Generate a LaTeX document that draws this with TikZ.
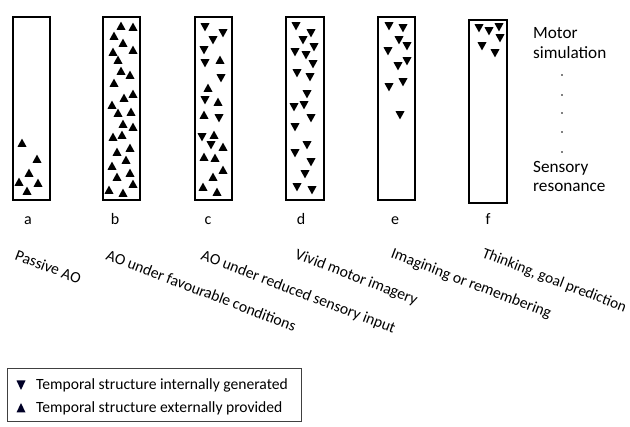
\documentclass[tikz,border=0pt]{standalone}
\usepackage{fontspec}
\setmainfont{Carlito}
\usetikzlibrary{calc}
\def\tup(#1,#2){\fill[shift={(#1,#2)}] (-4.5,3.8) -- (4.5,3.8) -- (0,-4.4) -- cycle;}
\def\tdn(#1,#2){\fill[shift={(#1,#2)}] (-4.5,-3.8) -- (4.5,-3.8) -- (0,4.4) -- cycle;}
\tikzset{
  column/.style={line width=1.6pt},
  letter/.style={anchor=base, font=\fontsize{16}{18}\selectfont},
  scale label/.style={anchor=base west, font=\fontsize{17.2}{19}\selectfont, inner sep=0pt},
  condition/.style={anchor=north west, rotate=-21, inner sep=0pt, font=\fontsize{15.7}{17}\selectfont},
  key text/.style={anchor=west, inner sep=0pt, font=\fontsize{15.6}{17}\selectfont},
}

\begin{document}
\begin{tikzpicture}[x=1pt, y=-1pt]
			%%%%% START %%%%%
			\useasboundingbox (0,0) rectangle (630,427);

			\draw[column] (13, 17) rectangle (50, 200);
			\draw[column] (103, 17) rectangle (140, 200);
			\draw[column] (195, 17) rectangle (232, 200);
			\draw[column] (286, 17) rectangle (324, 200);
			\draw[column] (378, 17) rectangle (415, 200);
			\draw[column] (469, 20) rectangle (507, 203);

			% a: passive AO
			\foreach \x/\y in {22/143, 37/159, 29/173, 19/182, 38/183, 27/191}
				{\tup(\x,\y)}

			% b: favourable conditions
			\foreach \x/\y in {121/26, 133/27, 114/36, 123/43, 133/50, 113/52, 118/60,
				121/71, 130/75, 114/83, 133/94, 124/98, 112/105, 118/113, 131/112,
				123/124, 133/127, 113/137, 122/135, 130/148, 117/152, 126/160,
				112/166, 130/173, 117/177, 133/184, 109/190, 123/193}
				{\tup(\x,\y)}

			% c: reduced sensory input
			\foreach \x/\y in {205/27, 223/33, 213/40, 204/50, 205/63, 221/78, 205/100,
				219/118, 202/137, 211/145}
				{\tdn(\x,\y)}
			\foreach \x/\y in {220/60, 208/88, 218/102, 204/115, 214/135, 223/147,
				204/157, 215/158, 223/170, 213/177, 203/187, 217/192}
				{\tup(\x,\y)}

			% d: vivid motor imagery
			\foreach \x/\y in {296/26, 311/33, 303/40, 314/47, 295/52, 306/55, 313/64,
				297/73, 310/77, 307/94, 294/107, 304/105, 311/118, 295/127, 307/145,
				295/153, 311/162, 305/174, 297/187, 312/190}
				{\tdn(\x,\y)}

			% e: imagining
			\foreach \x/\y in {389/26, 403/28, 399/40, 407/46, 388/51, 407/61, 398/66,
				403/82, 389/87, 400/115}
				{\tdn(\x,\y)}

			% f: thinking
			\foreach \x/\y in {479/28, 489/31, 499/27, 500/38, 482/46, 495/53}
				{\tdn(\x,\y)}

			\node[letter] (la) at (28, 225) {a};
			\node[letter] (lb) at (115, 225) {b};
			\node[letter] (lc) at (208, 225) {c};
			\node[letter] (ld) at (301, 225) {d};
			\node[letter] (le) at (395, 225) {e};
			\node[letter] (lf) at (488, 225) {f};

			\node[scale label] (motor) at (533, 39) {Motor};
			\node[scale label] (simulation) at (533, 59) {simulation};
			\foreach \y in {75, 95, 113, 132, 152}
				\fill (562, \y) circle (0.9);
			\node[scale label] (sensory) at (533, 173) {Sensory};
			\node[scale label] (resonance) at (533, 192) {resonance};

			\node[condition] (ca) at (18, 249) {Passive AO};
			\node[condition] (cb) at (109, 249) {AO under favourable conditions};
			\node[condition] (cc) at (204, 249) {AO under reduced sensory input};
			\node[condition] (cd) at (298, 248) {Vivid motor imagery};
			\node[condition] (ce) at (394, 247) {Imagining or remembering};
			\node[condition, font=\fontsize{15.3}{17}\selectfont] (cf) at (485, 247) {Thinking, goal prediction};

			% key
			\draw[line width=0.8pt, color=black!75] (7, 368) rectangle (301, 421);
			\fill[color=black!85!blue] (16.5, 380.5) -- (25.5, 380.5) -- (21, 390) -- cycle;
			\fill[color=black!85!blue] (16.5, 412.5) -- (25.5, 412.5) -- (21, 403) -- cycle;
			\node[key text] (kin) at (36, 385) {Temporal structure internally generated};
			\node[key text] (kex) at (36, 408) {Temporal structure externally provided};

			%%%%% END %%%%%
		\end{tikzpicture}
\end{document}
